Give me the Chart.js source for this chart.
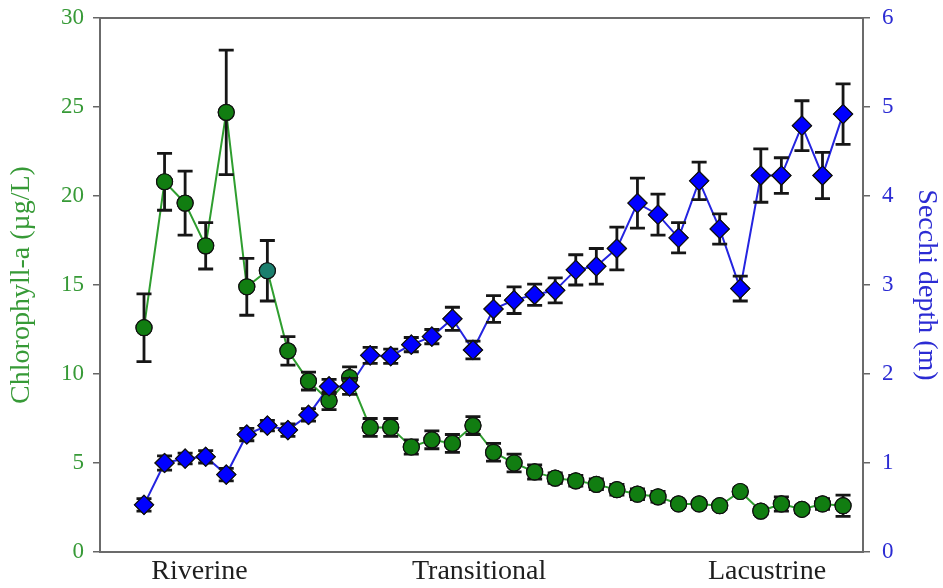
<!DOCTYPE html>
<html>
<head>
<meta charset="utf-8">
<script src="https://cdn.jsdelivr.net/npm/chart.js@4.4.1/dist/chart.umd.min.js"></script>
<style>
  html, body { margin: 0; padding: 0; background: #fff; }
  #wrap { width: 943px; height: 588px; }
</style>
</head>
<body>
<div id="wrap"><canvas id="chart"></canvas></div>
<script>
// --- Data (35 stations, upstream -> downstream) ---
const chlMean = [12.6, 20.8, 19.6, 17.2, 24.7, 14.9, 15.8, 11.3, 9.6, 8.5, 9.8, 7.0, 7.0, 5.9, 6.3, 6.1, 7.1, 5.6, 5.0, 4.5,
                 4.15, 4.0, 3.8, 3.5, 3.25, 3.1, 2.7, 2.7, 2.6, 3.4, 2.3, 2.7, 2.4, 2.7, 2.6];
const chlErr = [1.9, 1.6, 1.8, 1.3, 3.5, 1.6, 1.7, 0.8, 0.5, 0.5, 0.6, 0.5, 0.5, 0.4, 0.5, 0.5, 0.5, 0.5, 0.5, 0.4,
                0.3, 0.3, 0.3, 0.3, 0.3, 0.3, 0.2, 0.2, 0.2, 0.2, 0.2, 0.4, 0.2, 0.3, 0.6];
const secchiMean = [0.53, 1.0, 1.05, 1.07, 0.87, 1.32, 1.42, 1.37, 1.54, 1.86, 1.86, 2.21, 2.2, 2.33, 2.42, 2.62, 2.27, 2.73, 2.83, 2.89,
                    2.94, 3.17, 3.21, 3.41, 3.92, 3.79, 3.53, 4.17, 3.63, 2.96, 4.23, 4.23, 4.79, 4.23, 4.92];
const secchiErr = [0.07, 0.08, 0.06, 0.07, 0.07, 0.07, 0.06, 0.07, 0.07, 0.08, 0.09, 0.09, 0.08, 0.08, 0.08, 0.13, 0.1, 0.15, 0.15, 0.12,
                   0.14, 0.17, 0.2, 0.24, 0.28, 0.23, 0.17, 0.21, 0.17, 0.14, 0.3, 0.2, 0.28, 0.26, 0.34];

// zone labels and where they sit along the station axis
const zoneLabels = ['Riverine', 'Transitional', 'Lacustrine'];
const zonePos = [2.7, 16.3, 30.3];

const chlTicks = [0, 5, 10, 15, 20, 25, 30];
const secchiTicks = [0, 1, 2, 3, 4, 5, 6];

const GREEN_TXT = '#379a37';
const BLUE_TXT = '#2b2bd3';
const SERIF = "'Liberation Serif', 'Times New Roman', serif";

// green points: one station drawn in teal
const chlFill = chlMean.map((v, i) => i === 6 ? '#1b7f6e' : '#117d11');

// --- Error bars plugin ---
const errorBars = {
    id: 'errorBars',
    afterDatasetsDraw(chart) {
        const { ctx } = chart;
        const errs = [chlErr, secchiErr];
        ctx.save();
        ctx.strokeStyle = '#161616';
        ctx.lineWidth = 2.8;
        // draw back-to-front so blue ends on top
        [1, 0].forEach(di => {
            const ds = chart.data.datasets[di];
            const meta = chart.getDatasetMeta(di);
            const yScale = chart.scales[ds.yAxisID];
            const e = errs[ds.errIndex];
            meta.data.forEach((pt, i) => {
                const v = ds.data[i].y;
                const top = yScale.getPixelForValue(v + e[i]);
                const bot = yScale.getPixelForValue(v - e[i]);
                const x = pt.x;
                ctx.beginPath();
                ctx.moveTo(x, top); ctx.lineTo(x, bot);
                ctx.moveTo(x - 7.5, top); ctx.lineTo(x + 7.5, top);
                ctx.moveTo(x - 7.5, bot); ctx.lineTo(x + 7.5, bot);
                ctx.stroke();
            });
            // markers sit over the bars
            meta.data.forEach(pt => pt.draw(ctx, chart.chartArea));
            ctx.strokeStyle = '#161616';
            ctx.lineWidth = 2.8;
        });
        ctx.restore();
    }
};

// --- Frame plugin (box around plot) ---
const frame = {
    id: 'frame',
    afterDraw(chart) {
        const { ctx, chartArea: a } = chart;
        ctx.save();
        ctx.strokeStyle = '#6b6b6b';
        ctx.lineWidth = 2;
        ctx.strokeRect(a.left, a.top, a.right - a.left, a.bottom - a.top);
        ctx.restore();
    }
};

const ctx = document.getElementById('chart');
new Chart(ctx, {
    type: 'line',
    data: {
        datasets: [
            {
                label: 'Secchi depth',
                data: secchiMean.map((v, i) => ({ x: i, y: v })),
                yAxisID: 'ySecchi',
                errIndex: 1,
                order: 1,
                borderColor: '#2424e0',
                borderWidth: 2,
                pointStyle: 'rectRot',
                pointRadius: 9.5,
                pointBackgroundColor: '#0000ff',
                pointBorderColor: '#111',
                pointBorderWidth: 1.2,
                tension: 0
            },
            {
                label: 'Chlorophyll-a',
                data: chlMean.map((v, i) => ({ x: i, y: v })),
                yAxisID: 'yChl',
                errIndex: 0,
                order: 2,
                borderColor: '#2f9e2f',
                borderWidth: 2,
                pointStyle: 'circle',
                pointRadius: 8,
                pointBackgroundColor: chlFill,
                pointBorderColor: '#111',
                pointBorderWidth: 1.2,
                tension: 0
            }
        ]
    },
    plugins: [errorBars, frame],
    options: {
        responsive: true,
        maintainAspectRatio: false,
        animation: false,
        layout: { padding: { top: 18, left: 0, right: 0, bottom: 0 } },
        plugins: {
            legend: { display: false },
            tooltip: { enabled: false }
        },
        scales: {
            x: {
                type: 'linear',
                min: -2.14,
                max: 34.97,
                afterBuildTicks: (scale) => {
                    scale.ticks = zonePos.map(v => ({ value: v }));
                },
                afterFit: (scale) => {
                    scale.height = 36;
                    scale.paddingLeft = 0;
                    scale.paddingRight = 0;
                },
                grid: { display: false, drawTicks: false },
                border: { display: false },
                ticks: {
                    autoSkip: false,
                    maxRotation: 0,
                    padding: 3,
                    color: '#1e1e1e',
                    font: { family: SERIF, size: 28 },
                    callback: (value, index) => zoneLabels[index]
                }
            },
            yChl: {
                type: 'linear',
                position: 'left',
                min: 0,
                max: 30,
                afterBuildTicks: (scale) => {
                    scale.ticks = chlTicks.map(v => ({ value: v }));
                },
                afterFit: (scale) => {
                    scale.width = 100;
                    scale.paddingTop = 0;
                    scale.paddingBottom = 0;
                },
                grid: { drawOnChartArea: false, drawTicks: true, tickLength: 7, color: '#666', lineWidth: 1.5 },
                border: { display: false },
                ticks: {
                    padding: 9,
                    color: GREEN_TXT,
                    font: { family: SERIF, size: 23 }
                },
                title: {
                    display: true,
                    text: 'Chlorophyll-a (µg/L)',
                    color: GREEN_TXT,
                    padding: { top: 5, bottom: 0 },
                    font: { family: SERIF, size: 28 }
                }
            },
            ySecchi: {
                type: 'linear',
                position: 'right',
                min: 0,
                max: 6,
                afterBuildTicks: (scale) => {
                    scale.ticks = secchiTicks.map(v => ({ value: v }));
                },
                afterFit: (scale) => {
                    scale.width = 80;
                    scale.paddingTop = 0;
                    scale.paddingBottom = 0;
                },
                grid: { drawOnChartArea: false, drawTicks: true, tickLength: 7, color: '#666', lineWidth: 1.5 },
                border: { display: false },
                ticks: {
                    padding: 12,
                    color: BLUE_TXT,
                    font: { family: SERIF, size: 23 }
                },
                title: {
                    display: true,
                    text: 'Secchi depth (m)',
                    color: BLUE_TXT,
                    padding: { top: 0, bottom: 0 },
                    font: { family: SERIF, size: 28 }
                }
            }
        }
    }
});
</script>
</body>
</html>
